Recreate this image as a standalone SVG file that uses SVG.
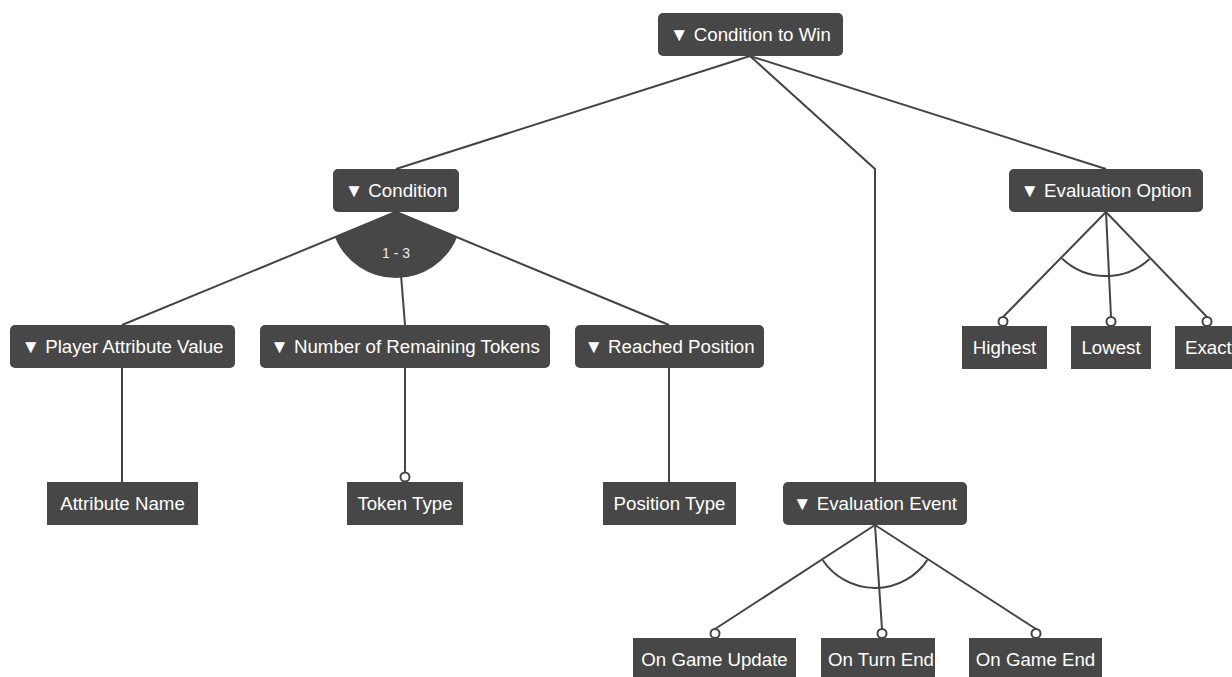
<svg xmlns="http://www.w3.org/2000/svg" width="1232" height="677" viewBox="0 0 1232 677">
<style>
.f{fill:#474747;}
.t{fill:#ffffff;font-family:"Liberation Sans",Arial,sans-serif;font-size:18.7px;text-anchor:middle;}
.c{fill:none;stroke:#444444;stroke-width:2;}
.o{fill:#ffffff;stroke:#444444;stroke-width:2;}
.s{fill:#ededed;font-family:"Liberation Sans",Arial,sans-serif;font-size:14px;text-anchor:middle;}
</style>
<rect width="1232" height="677" fill="#ffffff"/>
<g id="connectors">
<path class="c" d="M750,56 L396,169"/>
<path class="c" d="M750,56 L875,169 L875,482"/>
<path class="c" d="M750,56 L1106,169"/>
<path class="c" d="M396,212 L122,325"/>
<path class="c" d="M396,212 L405,325"/>
<path class="c" d="M396,212 L669,325"/>
<path d="M396,212 L336,237 A65,65 0 0 0 456,237 Z" fill="#474747" stroke="#474747" stroke-width="2"/>
<path class="c" d="M122,368 L122,482"/>
<path class="c" d="M405,368 L405,473"/>
<circle class="o" cx="405" cy="477" r="4.5"/>
<path class="c" d="M669,368 L669,482"/>
<path class="c" d="M1106,212 L1003,317"/>
<path class="c" d="M1106,212 L1111,317"/>
<path class="c" d="M1106,212 L1207,317"/>
<path class="c" d="M1062,258.5 A64,64 0 0 0 1149.5,259"/>
<circle class="o" cx="1003" cy="321.5" r="4.5"/>
<circle class="o" cx="1111" cy="321.5" r="4.5"/>
<circle class="o" cx="1207" cy="321.5" r="4.5"/>
<path class="c" d="M875,525 L715,629"/>
<path class="c" d="M875,525 L882,629"/>
<path class="c" d="M875,525 L1036,629"/>
<path class="c" d="M822.8,560.3 A63,63 0 0 0 927.3,560.1"/>
<circle class="o" cx="715" cy="633.5" r="4.5"/>
<circle class="o" cx="882" cy="633.5" r="4.5"/>
<circle class="o" cx="1036" cy="633.5" r="4.5"/>
</g>
<text class="s" x="396" y="258">1 - 3</text>
<g id="n-condition-to-win"><rect class="f" x="658" y="13" width="185" height="43" rx="5"/><text class="t" x="750.5" y="41">▼ Condition to Win</text></g>
<g id="n-condition"><rect class="f" x="333" y="169" width="126" height="43" rx="5"/><text class="t" x="396" y="197">▼ Condition</text></g>
<g id="n-evaluation-option"><rect class="f" x="1009" y="169" width="194" height="43" rx="5"/><text class="t" x="1106" y="197">▼ Evaluation Option</text></g>
<g id="n-player-attribute-value"><rect class="f" x="10" y="325" width="225" height="43" rx="5"/><text class="t" x="122.5" y="353">▼ Player Attribute Value</text></g>
<g id="n-number-of-remaining-tokens"><rect class="f" x="260" y="325" width="290" height="43" rx="5"/><text class="t" x="405" y="353">▼ Number of Remaining Tokens</text></g>
<g id="n-reached-position"><rect class="f" x="575" y="325" width="189" height="43" rx="5"/><text class="t" x="669.5" y="353">▼ Reached Position</text></g>
<g id="n-highest"><rect class="f" x="962" y="326" width="85" height="43"/><text class="t" x="1004.5" y="354">Highest</text></g>
<g id="n-lowest"><rect class="f" x="1071" y="326" width="80" height="43"/><text class="t" x="1111" y="354">Lowest</text></g>
<g id="n-exact"><rect class="f" x="1175" y="326" width="70" height="43"/><text class="t" x="1185" y="354" style="text-anchor:start">Exact</text></g>
<g id="n-attribute-name"><rect class="f" x="47" y="482" width="151" height="43"/><text class="t" x="122.5" y="510">Attribute Name</text></g>
<g id="n-token-type"><rect class="f" x="347" y="482" width="116" height="43"/><text class="t" x="405" y="510">Token Type</text></g>
<g id="n-position-type"><rect class="f" x="603" y="482" width="133" height="43"/><text class="t" x="669.5" y="510">Position Type</text></g>
<g id="n-evaluation-event"><rect class="f" x="783" y="482" width="184" height="43" rx="5"/><text class="t" x="875" y="510">▼ Evaluation Event</text></g>
<g id="n-on-game-update"><rect class="f" x="633" y="638" width="163" height="43"/><text class="t" x="714.5" y="666">On Game Update</text></g>
<g id="n-on-turn-end"><rect class="f" x="821" y="638" width="114" height="43"/><text class="t" x="881" y="666">On Turn End</text></g>
<g id="n-on-game-end"><rect class="f" x="969" y="638" width="133" height="43"/><text class="t" x="1035.5" y="666">On Game End</text></g>
</svg>
